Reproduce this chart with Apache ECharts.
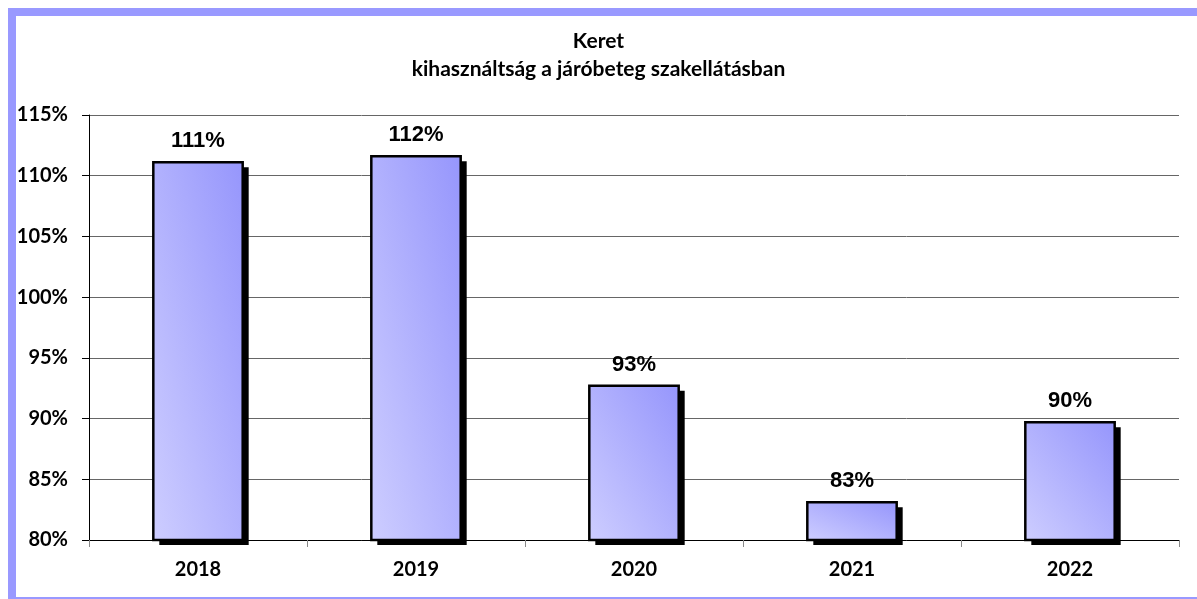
<!DOCTYPE html>
<html>
<head>
<meta charset="utf-8">
<script src="https://cdn.jsdelivr.net/npm/echarts@6/dist/echarts.min.js"></script>
<style>
  html, body { margin: 0; padding: 0; background: #fff; }
  #chart { width: 1197px; height: 599px; }
</style>
</head>
<body>
<div id="chart"></div>
<script>
// data
var years = ["2018", "2019", "2020", "2021", "2022"];
var usage = [111.1, 111.6, 92.7, 83.1, 89.7]; // percent
var yTicks = { min: 80, max: 115, step: 5 };

var chart = echarts.init(document.getElementById("chart"));
var frame = "#9999ff";
var axisFont = { fontFamily: "Lato", fontWeight: "bold", fontSize: 20, color: "#000" };

// bar with a hard black drop shadow, like the old Excel style
function renderBar(params, api) {
  var idx = api.value(0);
  var top = api.coord([idx, api.value(1)]);
  var base = api.coord([idx, yTicks.min]);
  var w = api.size([1, 0])[0] * 0.41;
  var x = top[0] - w / 2;
  var y = top[1];
  var h = base[1] - top[1];
  // diagonal gradient, isolines along the top-left -> bottom-right diagonal
  var k = 2 * w * h / (w * w + h * h);
  var grad = new echarts.graphic.LinearGradient(x, y + h, x + k * h, y + h - k * w, [
    { offset: 0, color: "#cdcdff" },
    { offset: 1, color: "#9696fc" }
  ], true);
  return {
    type: "group",
    children: [
      {
        type: "rect",
        shape: { x: x + 6, y: y + 5, width: w, height: h },
        style: { fill: "#000" }
      },
      {
        type: "rect",
        shape: { x: x, y: y, width: w, height: h },
        style: { fill: grad, stroke: "#000", lineWidth: 2.5 }
      },
      {
        type: "text",
        style: {
          text: Math.round(api.value(1)) + "%",
          x: top[0],
          y: y - 10,
          align: "center",
          verticalAlign: "bottom",
          fontFamily: "Liberation Sans",
          fontWeight: "bold",
          fontSize: 22,
          fill: "#000"
        }
      }
    ]
  };
}

chart.setOption({
  animation: false,
  backgroundColor: "#fff",
  title: {
    text: "Keret\nkihasználtság a járóbeteg szakellátásban",
    left: "center",
    top: 22,
    textStyle: {
      fontFamily: "Lato",
      fontWeight: "bold",
      fontSize: 21,
      lineHeight: 28,
      color: "#000"
    }
  },
  graphic: [
    // blue frame: top and left bands, thin bottom line
    { type: "rect", shape: { x: 8, y: 8, width: 1189, height: 8 }, style: { fill: frame }, silent: true },
    { type: "rect", shape: { x: 8, y: 8, width: 8, height: 591 }, style: { fill: frame }, silent: true },
    { type: "rect", shape: { x: 8, y: 597, width: 1189, height: 2 }, style: { fill: frame }, silent: true }
  ],
  grid: { left: 89, right: 18, top: 115, bottom: 59 },
  xAxis: {
    type: "category",
    data: years,
    axisLine: { lineStyle: { color: "#000", width: 1 } },
    axisTick: { show: true, length: 7, lineStyle: { color: "#888" } },
    axisLabel: Object.assign({ margin: 20 }, axisFont)
  },
  yAxis: {
    type: "value",
    min: yTicks.min,
    max: yTicks.max,
    interval: yTicks.step,
    axisLine: { show: true, lineStyle: { color: "#000", width: 1 } },
    axisTick: { show: true, length: 7, lineStyle: { color: "#000" } },
    splitLine: { lineStyle: { color: "#666", width: 1 } },
    axisLabel: Object.assign({ formatter: "{value}%", margin: 21 }, axisFont)
  },
  series: [
    {
      type: "custom",
      renderItem: renderBar,
      encode: { x: 0, y: 1 },
      data: usage.map(function (v, i) { return [i, v]; }),
      clip: false
    }
  ]
});
</script>
</body>
</html>
